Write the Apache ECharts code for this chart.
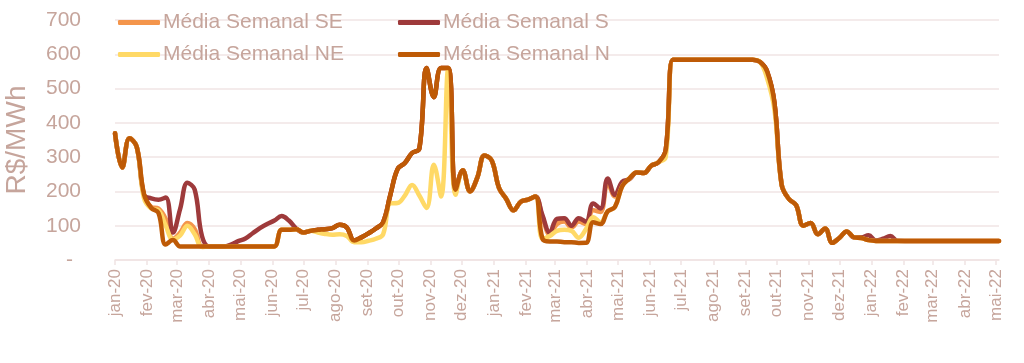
<!DOCTYPE html>
<html><head><meta charset="utf-8">
<script src="https://cdn.jsdelivr.net/npm/echarts@6/dist/echarts.min.js"></script>
<style>html,body{margin:0;padding:0;background:#fff}#c{width:1024px;height:363px}</style>
</head><body><div id="c"></div>
<script>
// First weekly observation; one value per week after that
const startDate = '2020-01-01';
const monthLabels = ['jan-20','fev-20','mar-20','abr-20','mai-20','jun-20','jul-20','ago-20','set-20','out-20','nov-20','dez-20',
  'jan-21','fev-21','mar-21','abr-21','mai-21','jun-21','jul-21','ago-21','set-21','out-21','nov-21','dez-21',
  'jan-22','fev-22','mar-22','abr-22','mai-22'];
const seriesNames = ['Média Semanal SE','Média Semanal S','Média Semanal NE','Média Semanal N'];
const yTicks = [0,100,200,300,400,500,600,700];

const valN = [370,270,355,330,192,152,137,45,58,39.68,
  39.68,39.68,39.68,39.68,39.68,39.68,39.68,39.68,39.68,39.68,39.68,39.68,
  39.68,
  88,88,90,80,85,88,90,93,103,95,57,66,78,92,110,190,265,283,312,325,559.75,475,559.75,559.75,205,262,200,240,305,290,210,178,145,170,176,185,62,54,54,52,52,49.77,50,110,105,142,155,215,238,255,254,275,285,320,
  583.88,583.88,583.88,583.88,583.88,583.88,583.88,583.88,583.88,583.88,583.88,583.88,
  578,550,460,220,178,160,100,108,75,92,50,65,83,66,64,58,
  55.70,55.70,55.70,55.70,55.70,55.70,55.70,55.70,55.70,55.70,55.70,55.70,55.70,55.70,55.70,55.70,55.70,55.70];

const valS = valN.slice();
const sDiff = {4:190,5:180,6:176,7:182,8:80,9:150,10:225,11:205,12:70,16:45,17:55,18:63,19:78,20:93,21:105,22:115,23:128,24:115,25:92,
  59:130,60:80,61:120,62:122,63:100,64:122,65:112,66:165,67:150,68:238,69:190,70:228,71:236,
  103:66,104:72,105:57,106:62,107:70,108:56};
const valSE = valN.slice();
const seDiff = {5:155,6:150,7:120,8:62,9:80,10:108,11:90,
  59:125,60:75,61:105,62:112,63:95,64:112,65:105,66:145,67:140,68:225,69:185,70:222,71:236};
const valNE = valN.slice();
const neDiff = {4:180,5:150,6:145,7:100,8:60,9:72,10:100,11:75,12:38,
  28:80,29:76,30:74,31:75,32:70,33:52,34:52,35:56,36:62,37:75,38:165,39:166,40:188,41:219,42:188,43:152,44:278,45:185,47:190,
  60:70,61:85,62:88,63:85,64:65,65:90,66:125,67:110,76:300,90:530,91:440};
Object.keys(sDiff).forEach(k => valS[k] = sDiff[k]);
Object.keys(seDiff).forEach(k => valSE[k] = seDiff[k]);
Object.keys(neDiff).forEach(k => valNE[k] = neDiff[k]);

const DAY = 86400000;
const t0 = Date.parse(startDate);
const weekDays = valN.map((_, i) => i * 7);
const monthDays = monthLabels.map((_, i) => Math.round((Date.UTC(2020, i, 1) - t0) / DAY));

const txt = '#C6A59C';
const grid = '#F0E4E4';
const colors = ['#F4954B', '#9E3A3B', '#FFD966', '#BE5A06'];
const vals = [valSE, valS, valNE, valN];
const font = 'Liberation Sans, Arial, sans-serif';

const chart = echarts.init(document.getElementById('c'));
const legendPos = [[118, 12], [398, 12], [118, 44], [398, 44]];
chart.setOption({
  animation: false,
  backgroundColor: '#fff',
  grid: { left: 115, right: 25, top: 20, bottom: 103, outerBoundsMode: 'none' },
  legend: seriesNames.map((nm, i) => ({
    data: [nm], left: legendPos[i][0], top: legendPos[i][1], padding: 0,
    icon: 'roundRect', itemWidth: 42, itemHeight: 5,
    textStyle: { color: txt, fontSize: 21, fontFamily: font, padding: [0,0,0,-2] }
  })),
  xAxis: {
    type: 'value', min: 0, max: 854,
    axisLine: { show: true, lineStyle: { color: grid, width: 1.5 } },
    axisTick: { show: true, customValues: monthDays, length: 5, lineStyle: { color: grid, width: 1.5 } },
    axisLabel: {
      customValues: monthDays, rotate: 90, fontSize: 17, color: txt, margin: 9,
      fontFamily: font,
      formatter: v => monthLabels[monthDays.indexOf(Math.round(v))] || ''
    },
    splitLine: { show: false }
  },
  yAxis: {
    type: 'value', min: 0, max: 700, interval: 100,
    name: 'R$/MWh', nameLocation: 'middle', nameRotate: 90, nameGap: 84,
    nameTextStyle: { color: txt, fontSize: 28, fontFamily: font },
    axisLine: { show: false }, axisTick: { show: false },
    axisLabel: {
      customValues: yTicks, color: txt, fontSize: 21, margin: 34,
      fontFamily: font,
      formatter: v => v === 0 ? '{d|-}' : String(v),
      rich: { d: { color: txt, fontSize: 21, padding: [0, 8, 0, 0], fontFamily: font } }
    },
    splitLine: { show: true, lineStyle: { color: grid, width: 1.5 } }
  },
  series: seriesNames.map((nm, i) => ({
    name: nm, type: 'line', smooth: 0.4, showSymbol: false,
    color: colors[i],
    lineStyle: { width: 4.5, color: colors[i], cap: 'round', join: 'round' },
    data: weekDays.map((d, j) => [d, vals[i][j]])
  }))
});
</script></body></html>
